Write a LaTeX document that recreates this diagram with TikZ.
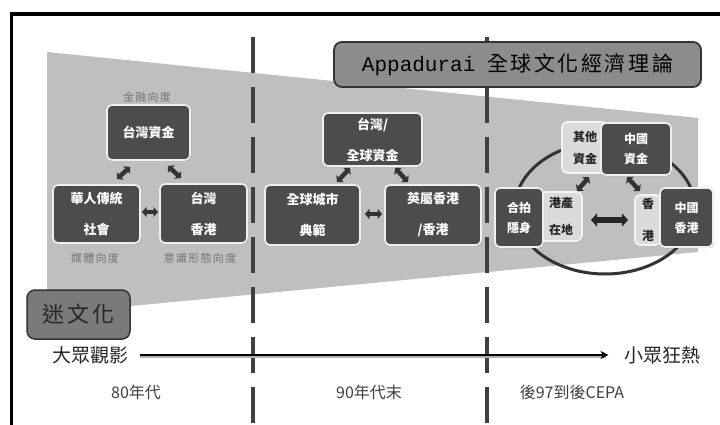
\documentclass[tikz,border=0pt]{standalone}
\usepackage{fontspec}
\setmainfont{Liberation Sans}
\newfontfamily\cjk{Noto Sans CJK TC}
\newfontfamily\cjksp{Noto Sans CJK TC}[LetterSpace=12]
\newfontfamily\monof{Liberation Mono}
\usetikzlibrary{arrows.meta,shadows}
\tikzset{
  base/.style={align=center, inner sep=0pt, rounded corners=5pt, line width=1.6pt,
    drop shadow={shadow xshift=1.2pt, shadow yshift=-1.2pt, opacity=.35}},
  dbox/.style={base, draw=black!6, fill=black!70, text=white,
    font=\cjk\bfseries\fontsize{13}{31}\selectfont},
  dboxs/.style={dbox, font=\cjk\bfseries\fontsize{12}{20}\selectfont},
  lbox/.style={base, draw=black!4, fill=black!14, text=black!85,
    font=\cjk\bfseries\fontsize{12}{27}\selectfont},
  dimlbl/.style={text=black!55, font=\cjksp\fontsize{11}{12}\selectfont},
  era/.style={text=black!75, font=\cjk\fontsize{16}{17}\selectfont},
  endlbl/.style={text=black!85, font=\cjk\fontsize{19}{20}\selectfont},
  titlebox/.style={draw=black!80, line width=1.8pt, rounded corners=8pt, inner sep=0pt},
  barr/.style={line width=4.5pt, black!80, {Triangle[length=4.5pt,width=10pt]}-{Triangle[length=4.5pt,width=10pt]}},
  bigarr/.style={line width=6pt, black!85, {Triangle[length=6pt,width=13pt]}-{Triangle[length=6pt,width=13pt]}},
  vdash/.style={line width=4pt, black!75, dash pattern=on 36pt off 14pt}
}
\begin{document}
\begin{tikzpicture}[x=1pt,y=-1pt]
\useasboundingbox (0,0) rectangle (720,425);
\fill[white] (0,0) rectangle (720,425);
% frame
\draw[line width=3.5pt, black] (720,14) -- (11.5,14) -- (11.5,425);
% trapezoid
\fill[black!25] (47,52) -- (698,118) -- (698,252) -- (47,314) -- cycle;
% dashed separators
\coordinate (d1t) at (253,37); \coordinate (d1b) at (253,425);
\coordinate (d2t) at (487,37); \coordinate (d2b) at (487,425);
\draw[vdash] (d1t) -- (d1b);
\draw[vdash] (d2t) -- (d2b);
% title
\node[titlebox, fill=black!45, minimum width=367pt, minimum height=45pt] (title) at (517.5,64.5)
  {{\monof\fontsize{21}{22}\selectfont Appadurai}\hspace{12pt}{\cjksp\fontsize{21}{22}\selectfont 全球文化經濟理論}};
\node[titlebox, draw=black!80, fill=black!52, minimum width=103pt, minimum height=49pt, line width=1.5pt] (mi) at (78.5,314.5)
  {\cjksp\fontsize{22}{24}\selectfont\color{black!85}迷文化};
% ellipse
\draw[line width=3pt, black!80] (605,208) ellipse [x radius=90pt, y radius=66pt];
% left section
\node[dimlbl] (l1) at (147,97) {金融向度};
\node[dbox, minimum width=83pt, minimum height=55pt] (tw) at (148.5,132.5) {台灣資金};
\node[dbox, minimum width=87pt, minimum height=58pt] (hr) at (96.5,214) {華人傳統\\社會};
\node[dbox, minimum width=87pt, minimum height=59pt] (twhk) at (203.5,213.5) {台灣\\香港};
\node[dimlbl] (l2) at (95,258) {媒體向度};
\node[dimlbl] (l3) at (200,258) {意識形態向度};
% middle section
\node[dbox, minimum width=99pt, minimum height=53pt] (tg) at (372.5,139.5) {台灣/\\全球資金};
\node[dbox, minimum width=95pt, minimum height=60pt] (gc) at (312.5,215) {全球城市\\典範};
\node[dbox, minimum width=96pt, minimum height=60pt] (bh) at (433,215) {英屬香港\\/香港};
% right section
\node[lbox, minimum width=46pt, minimum height=51pt, font=\cjk\bfseries\fontsize{12}{22}\selectfont] (oth) at (585,147.5) {其他\\資金};
\node[dboxs, minimum width=70pt, minimum height=52pt] (cn) at (636,149) {中國\\資金};
\node[lbox, minimum width=42pt, minimum height=49pt] (gcz) at (561,216.5) {港產\\在地};
\node[lbox, minimum width=26pt, minimum height=50pt, font=\cjk\bfseries\fontsize{12}{32}\selectfont] (xg) at (648,220) {香\\港};
\node[dboxs, minimum width=48pt, minimum height=59pt] (hp) at (519,217.5) {合拍\\隱身};
\node[dboxs, minimum width=53pt, minimum height=59pt] (cnhk) at (686.5,217.5) {中國\\香港};
% small arrows
\coordinate (a1s) at (130,167); \coordinate (a1e) at (117,179);
\coordinate (a2s) at (168,166); \coordinate (a2e) at (181,178);
\coordinate (a3s) at (142,212); \coordinate (a3e) at (158,212);
\draw[barr] (a1s) -- (a1e);
\draw[barr] (a2s) -- (a2e);
\draw[barr] (a3s) -- (a3e);
\coordinate (b1s) at (350,168); \coordinate (b1e) at (337,182);
\coordinate (b2s) at (395,168); \coordinate (b2e) at (408,182);
\coordinate (b3s) at (365,214); \coordinate (b3e) at (382,214);
\draw[barr] (b1s) -- (b1e);
\draw[barr] (b2s) -- (b2e);
\draw[barr] (b3s) -- (b3e);
\coordinate (c1s) at (589,177); \coordinate (c1e) at (577,191);
\coordinate (c2s) at (627,177); \coordinate (c2e) at (640,191);
\draw[barr] (c1s) -- (c1e);
\draw[barr] (c2s) -- (c2e);
\coordinate (c3s) at (591,220); \coordinate (c3e) at (628,220);
\draw[bigarr] (c3s) -- (c3e);
% main axis
\node[endlbl] (dz) at (90,355) {大眾觀影};
\node[endlbl] (xz) at (662,355) {小眾狂熱};
\draw[line width=2pt, black!30] ([xshift=8pt,yshift=-2pt]dz.east) -- ([xshift=-14pt,yshift=-2pt]xz.west);
\draw[line width=2pt, black, -{Stealth[length=8pt,width=8pt]}] ([xshift=8pt]dz.east) -- ([xshift=-12pt]xz.west);
% eras
\node[era] (e1) at (136,392) {80年代};
\node[era] (e2) at (369,392) {90年代末};
\node[era] (e3) at (572,392) {後97到後CEPA};
\end{tikzpicture}
\end{document}
